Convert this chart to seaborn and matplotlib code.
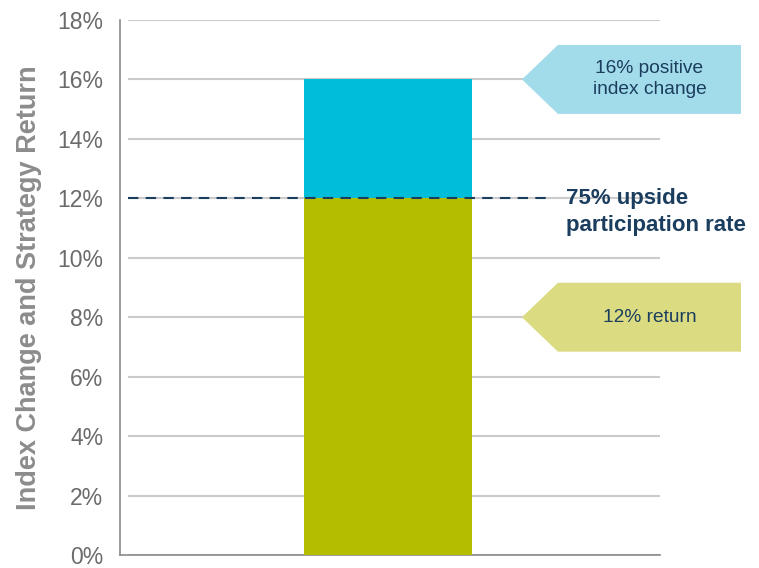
import matplotlib
matplotlib.use("Agg")
import matplotlib.pyplot as plt
import seaborn as sns
import pandas as pd
from matplotlib.patches import Polygon

#-----------------------------------------
# datos del grafico
#-----------------------------------------
categories = ["Strategy"]
index_change = [16]      # cambio positivo del indice (%)
strategy_return = [12]   # retorno con 75% de participacion (%)
participation_level = 12
y_ticks = [0, 2, 4, 6, 8, 10, 12, 14, 16, 18]
y_tick_labels = ["0%", "2%", "4%", "6%", "8%", "10%", "12%", "14%", "16%", "18%"]

df = pd.DataFrame({"cat": categories, "index": index_change, "ret": strategy_return})

#-----------------------------------------
# estilo
#-----------------------------------------
sns.set_style("white")
plt.rcParams["font.family"] = ["Liberation Sans", "DejaVu Sans"]

CYAN = "#00BDD9"
GREEN = "#B5BD00"
CYAN_LIGHT = "#A2DBEA"
GREEN_LIGHT = "#DBDC82"
NAVY = "#1B3D5E"
GRID = "#CBCBCB"

fig = plt.figure(figsize=(7.59, 5.68), dpi=100)
ax = fig.add_axes([120 / 759, 1 - 555 / 568, 540 / 759, 535 / 568])

# gridlines (empiezan un poco separadas del eje)
ax.hlines(y_ticks, -0.481, 0.504, colors=GRID, linewidth=1.5, zorder=0)

# barras: primero el total (cian), luego el retorno (verde)
sns.barplot(data=df, x="cat", y="index", color=CYAN, width=0.31, saturation=1,
            linewidth=0, ax=ax, zorder=2)
sns.barplot(data=df, x="cat", y="ret", color=GREEN, width=0.31, saturation=1,
            linewidth=0, ax=ax, zorder=3)

ax.set_xlim(-0.496, 0.504)
ax.set_ylim(0, 18)
ax.set_xticks([])
ax.set_xlabel("")
ax.set_yticks(y_ticks)
ax.set_yticklabels(y_tick_labels, fontsize=16.5, color="#6B6B6B")
ax.tick_params(axis="y", length=0, pad=12)
ax.set_ylabel("Index Change and Strategy Return", fontsize=19.5, fontweight="bold",
              color="#8C8C8C", labelpad=11)

for side in ["top", "right"]:
    ax.spines[side].set_visible(False)
for side in ["left", "bottom"]:
    ax.spines[side].set_color("#8A8A8A")
    ax.spines[side].set_linewidth(1.2)

# linea de participacion
ax.hlines(participation_level, -0.481, 0.3, colors=NAVY, linewidth=1.5,
          linestyles=(0, (5, 3.5)), zorder=4)
ax.text(0.329, participation_level - 0.45, "75% upside\nparticipation rate", fontsize=16,
        fontweight="bold", color=NAVY, ha="left", va="center", linespacing=1.38,
        clip_on=False)

# etiquetas en forma de flecha
def flecha(y, color, texto):
    pts = [(0.2484, y), (0.315, y + 1.16), (0.654, y + 1.16), (0.654, y - 1.16), (0.315, y - 1.16)]
    ax.add_patch(Polygon(pts, closed=True, facecolor=color, edgecolor="none",
                         clip_on=False, zorder=5))
    ax.text(0.4846, y, texto, fontsize=13.8, color=NAVY, ha="center", va="center",
            linespacing=1.3, zorder=6, clip_on=False)

flecha(index_change[0], CYAN_LIGHT, "16% positive\nindex change")
flecha(8, GREEN_LIGHT, "12% return")

plt.savefig("out.png", dpi=100)
